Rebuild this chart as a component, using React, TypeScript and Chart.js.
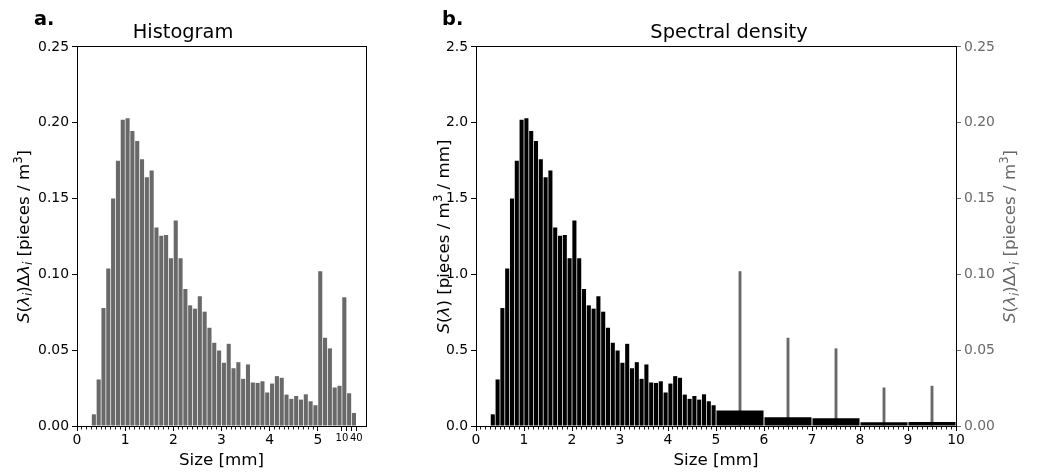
import React, { useEffect, useRef } from 'react';
import { Chart, registerables } from 'chart.js';

Chart.register(...registerables);

const FONT_FAMILY = "'DejaVu Sans', 'Liberation Sans', sans-serif";

// ---------------- Panel a: Histogram ----------------
const histBinEdges = [
  0, 0.1, 0.2, 0.3, 0.4, 0.5, 0.6, 0.7, 0.8, 0.9,
  1, 1.1, 1.2, 1.3, 1.4, 1.5, 1.6, 1.7, 1.8, 1.9,
  2, 2.1, 2.2, 2.3, 2.4, 2.5, 2.6, 2.7, 2.8, 2.9,
  3, 3.1, 3.2, 3.3, 3.4, 3.5, 3.6, 3.7, 3.8, 3.9,
  4, 4.1, 4.2, 4.3, 4.4, 4.5, 4.6, 4.7, 4.8, 4.9,
  5, 6, 7, 8, 9, 10, 20, 30, 40,
];
const histValues = [
  0, 0, 0, 0.0077, 0.0307, 0.0778, 0.1039, 0.150, 0.175, 0.202,
  0.203, 0.1945, 0.188, 0.176, 0.164, 0.1685, 0.131, 0.1255, 0.126, 0.1107,
  0.1356, 0.1107, 0.0904, 0.0796, 0.0774, 0.0856, 0.0754, 0.0648, 0.0549, 0.0498,
  0.0417, 0.0542, 0.0381, 0.0421, 0.0311, 0.0406, 0.0287, 0.0284, 0.0295, 0.0221,
  0.028, 0.0329, 0.0318, 0.0207, 0.0179, 0.0198, 0.0174, 0.0209, 0.0163, 0.0137,
  0.1021, 0.0582, 0.0512, 0.0254, 0.0265, 0.0849, 0.0216, 0.0086,
];
const histTickValues = [0, 1, 2, 3, 4, 5, 10, 20, 30, 40];
const histTickLabels = ['0', '1', '2', '3', '4', '5', '10', '', '', '40'];

// ---------------- Panel b: Spectral density ----------------
const densityBinEdges = [
  0, 0.1, 0.2, 0.3, 0.4, 0.5, 0.6, 0.7, 0.8, 0.9,
  1, 1.1, 1.2, 1.3, 1.4, 1.5, 1.6, 1.7, 1.8, 1.9,
  2, 2.1, 2.2, 2.3, 2.4, 2.5, 2.6, 2.7, 2.8, 2.9,
  3, 3.1, 3.2, 3.3, 3.4, 3.5, 3.6, 3.7, 3.8, 3.9,
  4, 4.1, 4.2, 4.3, 4.4, 4.5, 4.6, 4.7, 4.8, 4.9,
  5, 6, 7, 8, 9, 10,
];
const densityValues = [
  0, 0, 0, 0.077, 0.307, 0.778, 1.039, 1.50, 1.75, 2.02,
  2.03, 1.945, 1.88, 1.76, 1.64, 1.685, 1.31, 1.255, 1.26, 1.107,
  1.356, 1.107, 0.904, 0.796, 0.774, 0.856, 0.754, 0.648, 0.549, 0.498,
  0.417, 0.542, 0.381, 0.421, 0.311, 0.406, 0.287, 0.284, 0.295, 0.221,
  0.28, 0.329, 0.318, 0.207, 0.179, 0.198, 0.174, 0.209, 0.163, 0.137,
  0.102, 0.058, 0.051, 0.025, 0.026,
];
// S(λi)Δλi of the 1-mm bins (right axis)
const coarseBinCounts = [0.1021, 0.0582, 0.0512, 0.0254, 0.0265];
const densityTickValues = [0, 1, 2, 3, 4, 5, 6, 7, 8, 9, 10];

// ---------------- helpers ----------------
type Seg = { t: string; it?: boolean; sub?: boolean; sup?: boolean };

const histYLabel: Seg[] = [
  { t: 'S', it: true }, { t: '(' }, { t: 'λ', it: true }, { t: 'i', it: true, sub: true }, { t: ')' },
  { t: 'Δ' }, { t: 'λ', it: true }, { t: 'i', it: true, sub: true },
  { t: ' [pieces / m' }, { t: '3', sup: true }, { t: ']' },
];
const densityYLabel: Seg[] = [
  { t: 'S', it: true }, { t: '(' }, { t: 'λ', it: true }, { t: ')' },
  { t: ' [pieces / m' }, { t: '3', sup: true }, { t: ' / mm]' },
];

const TICK = 13.9;
const SMALL_TICK = 10;
const LABEL = 16.7;
const TITLE = 19.4;
const GRAY = '#696969';

function segFont(s: Seg, size: number) {
  const sz = s.sub || s.sup ? size * 0.7 : size;
  return `${s.it ? 'italic ' : ''}${sz}px ${FONT_FAMILY}`;
}

function drawRich(ctx: CanvasRenderingContext2D, segs: Seg[], x: number, y: number, size: number, color: string) {
  ctx.save();
  ctx.translate(x, y);
  ctx.rotate(-Math.PI / 2);
  ctx.fillStyle = color;
  ctx.textBaseline = 'alphabetic';
  ctx.textAlign = 'left';
  const widths = segs.map((s) => {
    ctx.font = segFont(s, size);
    return ctx.measureText(s.t).width;
  });
  const total = widths.reduce((a, b) => a + b, 0);
  let cx = -total / 2;
  segs.forEach((s, i) => {
    ctx.font = segFont(s, size);
    const dy = s.sub ? size * 0.22 : s.sup ? -size * 0.4 : 0;
    ctx.fillText(s.t, cx, dy);
    cx += widths[i];
  });
  ctx.restore();
}

const al = (p: number) => Math.round(p - 0.5) + 0.5;

function decorPlugin(cfg: {
  letter: string; letterX: number; letterY: number;
  minorAxis: string; minorValues: number[];
  labels: { segs: Seg[]; x: number; color: string }[];
}) {
  return {
    id: 'decor',
    afterDatasetsDraw(chart: any) {
      const { ctx, chartArea: a } = chart;
      ctx.save();
      ctx.strokeStyle = '#000';
      ctx.lineWidth = 1;
      ctx.strokeRect(al(a.left), al(a.top), al(a.right) - al(a.left), al(a.bottom) - al(a.top));
      const xs = chart.scales[cfg.minorAxis];
      ctx.beginPath();
      for (const v of cfg.minorValues) {
        const px = al(xs.getPixelForValue(v));
        ctx.moveTo(px, al(a.bottom));
        ctx.lineTo(px, al(a.bottom) + 3);
      }
      ctx.lineWidth = 0.9;
      ctx.stroke();
      ctx.restore();
    },
    afterDraw(chart: any) {
      const { ctx, chartArea: a } = chart;
      ctx.save();
      ctx.fillStyle = '#000';
      ctx.font = `bold ${TITLE}px ${FONT_FAMILY}`;
      ctx.textBaseline = 'alphabetic';
      ctx.textAlign = 'left';
      ctx.fillText(cfg.letter, cfg.letterX, cfg.letterY);
      ctx.restore();
      const cy = (a.top + a.bottom) / 2;
      for (const l of cfg.labels) drawRich(ctx, l.segs, l.x, cy, LABEL, l.color);
    },
  };
}

const tickFont = { family: FONT_FAMILY, size: TICK };

function baseY(min: number, max: number, step: number, digits: number, width: number, position: 'left' | 'right', color: string) {
  return {
    type: 'linear',
    position,
    min,
    max,
    afterFit: (s: any) => { s.width = width; },
    ticks: {
      stepSize: step,
      font: tickFont,
      color,
      padding: 3,
      callback: (v: any) => Number(v).toFixed(digits),
    },
    grid: { drawOnChartArea: false, drawTicks: true, tickLength: 5, tickColor: color, tickWidth: 1 },
    border: { display: false },
  };
}

function xTitle() {
  return {
    display: true,
    text: 'Size [mm]',
    color: '#000',
    font: { family: FONT_FAMILY, size: LABEL },
    padding: { top: 0, bottom: 2.8 },
  };
}

function buildHistConfig(): any {
  const tickPos = histTickValues.map((v) => histBinEdges.indexOf(v));
  const minor: number[] = [];
  histBinEdges.forEach((e, i) => { if (e <= 5) minor.push(i); });
  return {
    type: 'bar',
    data: {
      datasets: [{
        data: histValues.map((v, i) => ({ x: i + 0.5, y: v })),
        backgroundColor: GRAY,
        borderWidth: 0,
        barPercentage: 0.85,
        categoryPercentage: 1,
        grouped: false,
      }],
    },
    options: {
      animation: false,
      responsive: false,
      events: [],
      layout: { padding: { left: 0, right: 54, top: 0, bottom: 0 } },
      plugins: {
        legend: { display: false },
        tooltip: { enabled: false },
        title: {
          display: true,
          text: 'Histogram',
          color: '#000',
          font: { family: FONT_FAMILY, size: TITLE, weight: 'normal' },
          padding: { top: 21.7, bottom: 2 },
        },
      },
      scales: {
        x: {
          type: 'linear',
          min: 0,
          max: 60,
          offset: false,
          afterFit: (s: any) => { s.height = 47; },
          afterBuildTicks: (s: any) => { s.ticks = tickPos.map((p) => ({ value: p })); },
          ticks: {
            autoSkip: false,
            maxRotation: 0,
            minRotation: 0,
            padding: 1,
            color: '#000',
            font: (c: any) => ({ family: FONT_FAMILY, size: c.tick && c.tick.value > 50 ? SMALL_TICK : TICK }),
            callback: (_v: any, i: number) => histTickLabels[i],
          },
          grid: { offset: false, drawOnChartArea: false, drawTicks: true, tickLength: 5, tickColor: '#000' },
          border: { display: false },
          title: xTitle(),
        },
        y: baseY(0, 0.25, 0.05, 2, 77, 'left', '#000'),
      },
    },
    plugins: [decorPlugin({
      letter: 'a.', letterX: 34, letterY: 25,
      minorAxis: 'x', minorValues: minor,
      labels: [{ segs: histYLabel, x: 28.5, color: '#000' }],
    })],
  };
}

function buildDensityConfig(): any {
  const fine: { x: number; y: number }[] = [];
  const coarse: { x: number; y: number }[] = [];
  const coarseCenters: number[] = [];
  densityValues.forEach((v, i) => {
    const w = densityBinEdges[i + 1] - densityBinEdges[i];
    const c = (densityBinEdges[i] + densityBinEdges[i + 1]) / 2;
    if (w < 0.5) fine.push({ x: c, y: v });
    else { coarse.push({ x: c, y: v }); coarseCenters.push(c); }
  });
  const counts = coarseBinCounts.map((v, i) => ({ x: coarseCenters[i], y: v }));
  const minor: number[] = [];
  for (let k = 0; k <= 100; k++) minor.push(k / 10);
  const hiddenX = { type: 'linear', display: false, min: 0, max: 10, offset: false, grid: { offset: false }, ticks: { stepSize: 1 } };
  return {
    type: 'bar',
    data: {
      datasets: [
        { data: fine, xAxisID: 'x', yAxisID: 'y', backgroundColor: '#000', borderWidth: 0, barPercentage: 0.85, categoryPercentage: 1, grouped: false },
        { data: coarse, xAxisID: 'x2', yAxisID: 'y', backgroundColor: '#000', borderWidth: 0, barPercentage: 0.98, categoryPercentage: 1, grouped: false },
        { data: counts, xAxisID: 'x3', yAxisID: 'y2', backgroundColor: GRAY, borderWidth: 0, barPercentage: 0.06, categoryPercentage: 1, grouped: false },
      ],
    },
    options: {
      animation: false,
      responsive: false,
      events: [],
      layout: { padding: { left: 0, right: 0, top: 0, bottom: 0 } },
      plugins: {
        legend: { display: false },
        tooltip: { enabled: false },
        title: {
          display: true,
          text: 'Spectral density',
          color: '#000',
          font: { family: FONT_FAMILY, size: TITLE, weight: 'normal' },
          padding: { top: 21.7, bottom: 2 },
        },
      },
      scales: {
        x: {
          type: 'linear',
          min: 0,
          max: 10,
          offset: false,
          afterFit: (s: any) => { s.height = 47; },
          afterBuildTicks: (s: any) => { s.ticks = densityTickValues.map((v) => ({ value: v })); },
          ticks: {
            autoSkip: false,
            maxRotation: 0,
            minRotation: 0,
            padding: 1,
            color: '#000',
            font: tickFont,
            callback: (v: any) => String(v),
          },
          grid: { offset: false, drawOnChartArea: false, drawTicks: true, tickLength: 5, tickColor: '#000' },
          border: { display: false },
          title: xTitle(),
        },
        x2: hiddenX,
        x3: { ...hiddenX },
        y: baseY(0, 2.5, 0.5, 1, 56, 'left', '#000'),
        y2: baseY(0, 0.25, 0.05, 2, 82, 'right', GRAY),
      },
    },
    plugins: [decorPlugin({
      letter: 'b.', letterX: 22, letterY: 25,
      minorAxis: 'x', minorValues: minor,
      labels: [
        { segs: densityYLabel, x: 28.5, color: '#000' },
        { segs: histYLabel, x: 595, color: GRAY },
      ],
    })],
  };
}

export default function App() {
  const leftRef = useRef<HTMLCanvasElement>(null);
  const rightRef = useRef<HTMLCanvasElement>(null);
  useEffect(() => {
    document.body.style.margin = '0';
    const c1 = new Chart(leftRef.current as HTMLCanvasElement, buildHistConfig());
    const c2 = new Chart(rightRef.current as HTMLCanvasElement, buildDensityConfig());
    return () => { c1.destroy(); c2.destroy(); };
  }, []);
  return (
    <div style={{ position: 'relative', width: 1038, height: 473, background: '#fff', overflow: 'hidden' }}>
      <canvas ref={leftRef} width={420} height={473} style={{ position: 'absolute', left: 0, top: 0 }} />
      <canvas ref={rightRef} width={618} height={473} style={{ position: 'absolute', left: 420, top: 0 }} />
    </div>
  );
}
